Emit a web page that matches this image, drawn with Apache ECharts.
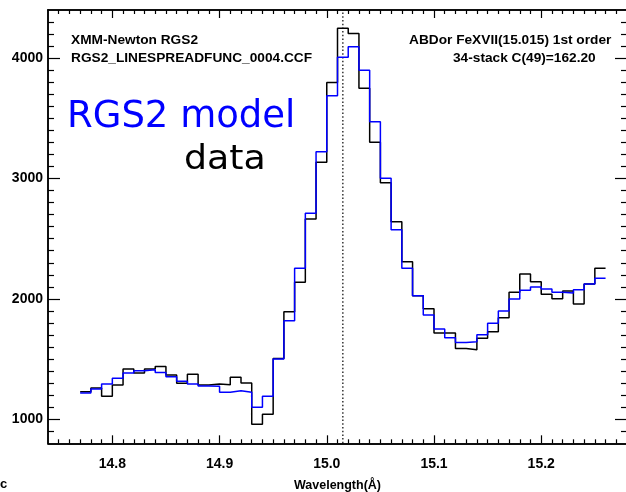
<!DOCTYPE html>
<html><head><meta charset="utf-8">
<script src="https://cdn.jsdelivr.net/npm/echarts@6/dist/echarts.min.js"></script>
<style>html,body{margin:0;padding:0;background:#fff}#c{width:626px;height:492px}</style>
</head><body><div id="c"></div>
<script>
// 49 bins of 0.01 Å starting at 14.77 Å
const binStart = 14.77;
const binWidth = 0.01;
const dataCounts = [1229,1259,1190,1284,1417,1384,1417,1439,1367,1298,1374,1284,1293,1287,1348,1301,958,1041,1505,1893,2138,2664,3135,3798,4248,4205,3750,3301,2965,2641,2309,2026,1918,1716,1716,1588,1578,1672,1727,1843,2054,2206,2143,2038,2001,2065,1957,2124,2254];
const modelCounts = [1218,1251,1293,1340,1384,1403,1411,1389,1353,1315,1293,1276,1273,1224,1237,1224,1100,1190,1500,1819,2254,2711,3223,3688,4007,4094,3899,3472,3002,2575,2254,2026,1866,1750,1677,1638,1644,1702,1797,1899,1999,2071,2099,2082,2054,2049,2076,2124,2171];
const xTickLabels = [14.8, 14.9, 15.0, 15.1, 15.2];
const yTickLabels = [1000, 2000, 3000, 4000];
const lineCentre = 15.015;
const xRange = [14.74, 15.28];
const yRange = [800, 4400];

function steps(vals) {
  const pts = vals.map((v, i) => [+(binStart + i * binWidth).toFixed(3), v]);
  pts.push([+(binStart + vals.length * binWidth).toFixed(3), vals[vals.length - 1]]);
  return pts;
}
const xMinor = [];
for (let i = 1; i < 54; i++) { const v = +(xRange[0] + i * 0.01).toFixed(2); if (!xTickLabels.some(t => Math.abs(t - v) < 1e-6)) xMinor.push(v); }
const yMinor = [];
for (let v = 900; v < 4400; v += 100) { if (v % 1000 !== 0) yMinor.push(v); }

const FONT = '"Liberation Sans", Arial, Helvetica, sans-serif';
const axLine = { color: '#000', width: 1.5 };
const tickLine = { color: '#000', width: 1.2 };

function xAx(pos, custom, len, labels) {
  const a = {
    type: 'value', min: xRange[0], max: xRange[1], position: pos, offset: 0,
    axisLine: { show: true, lineStyle: axLine, onZero: false },
    axisTick: { show: true, inside: true, length: len, customValues: custom, lineStyle: tickLine },
    axisLabel: { show: labels, customValues: xTickLabels, formatter: v => (+v).toFixed(1), margin: 14,
      fontFamily: FONT, fontWeight: 'bold', fontSize: 14, color: '#000' },
    splitLine: { show: false }
  };
  if (labels) {
    a.name = 'Wavelength(Å)'; a.nameLocation = 'middle'; a.nameGap = 36;
    a.nameTextStyle = { fontFamily: FONT, fontWeight: 'bold', fontSize: 12.5, color: '#000' };
  }
  return a;
}
function yAx(pos, custom, len, labels) {
  return {
    type: 'value', min: yRange[0], max: yRange[1], position: pos, offset: 0,
    axisLine: { show: true, lineStyle: axLine, onZero: false },
    axisTick: { show: true, inside: true, length: len, customValues: custom, lineStyle: tickLine },
    axisLabel: { show: labels, customValues: yTickLabels, formatter: v => String(v), margin: 5,
      fontFamily: FONT, fontWeight: 'bold', fontSize: 14, color: '#000' },
    splitLine: { show: false }
  };
}

const chart = echarts.init(document.getElementById('c'), null, { renderer: 'canvas' });
chart.setOption({
  animation: false,
  backgroundColor: '#fff',
  grid: { left: 48, top: 10, width: 579, height: 433.3, containLabel: false, outerBoundsMode: 'none' },
  xAxis: [
    xAx('bottom', xTickLabels, 8, true),
    xAx('bottom', xMinor, 4, false),
    xAx('top', xTickLabels, 8, false),
    xAx('top', xMinor, 4, false)
  ],
  yAxis: [
    yAx('left', yTickLabels, 12, true),
    yAx('left', yMinor, 6, false),
    yAx('right', yTickLabels, 12, false),
    yAx('right', yMinor, 6, false)
  ],
  series: [
    {
      type: 'line', data: [[lineCentre, yRange[0]], [lineCentre, yRange[1]]], xAxisIndex: 0, yAxisIndex: 0,
      symbol: 'none', lineStyle: { color: '#000', width: 1.2, type: [1.5, 2.2] }, z: 1
    },
    {
      type: 'line', step: 'end', data: steps(dataCounts), xAxisIndex: 0, yAxisIndex: 0,
      symbol: 'none', lineStyle: { color: '#000', width: 1.5 }, z: 2
    },
    {
      type: 'line', step: 'end', data: steps(modelCounts), xAxisIndex: 0, yAxisIndex: 0,
      symbol: 'none', lineStyle: { color: '#0000ff', width: 1.5 }, z: 3
    }
  ],
  graphic: [
    { type: 'text', left: 71, top: 33, style: { text: 'XMM-Newton RGS2', font: 'bold 13.7px ' + FONT, fill: '#000' } },
    { type: 'text', left: 71, top: 51, style: { text: 'RGS2_LINESPREADFUNC_0004.CCF', font: 'bold 13.7px ' + FONT, fill: '#000' } },
    { type: 'text', left: 409, top: 33, style: { text: 'ABDor FeXVII(15.015) 1st order', font: 'bold 13.7px ' + FONT, fill: '#000' } },
    { type: 'text', left: 453, top: 51, style: { text: '34-stack C(49)=162.20', font: 'bold 13.7px ' + FONT, fill: '#000' } },
    { type: 'text', left: 67, top: 99, style: { text: 'RGS2 model', font: '37px "DejaVu Sans", sans-serif', fill: '#0000ff' } },
    { type: 'text', x: 184, y: 144, scaleX: 1.1, style: { text: 'data', font: '33px "DejaVu Sans", sans-serif', fill: '#000' } },
    { type: 'text', left: 0, top: 478, style: { text: 'c', font: 'bold 13px ' + FONT, fill: '#000' } }
  ]
});
</script></body></html>
